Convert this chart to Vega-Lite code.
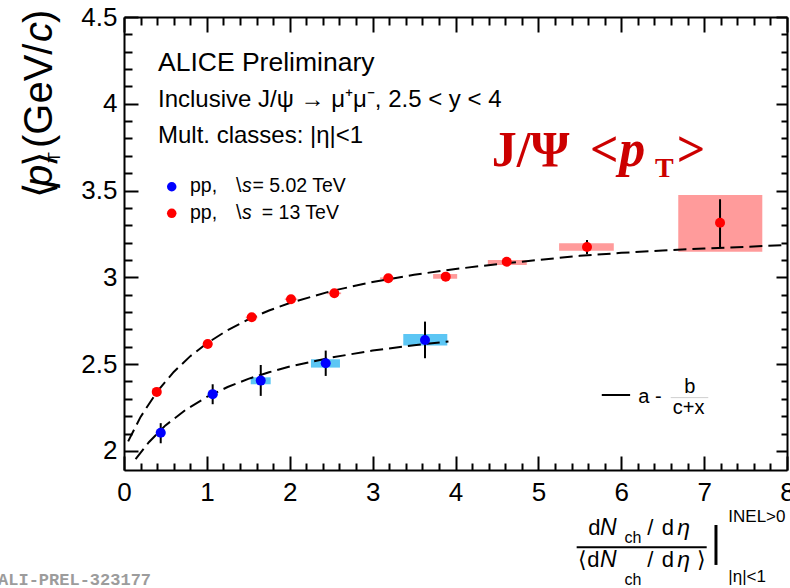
{
  "$schema": "https://vega.github.io/schema/vega-lite/v6.json",
  "width": 663,
  "height": 453,
  "autosize": "none",
  "padding": {"left": 124, "top": 17, "right": 3, "bottom": 118},
  "background": "white",
  "config": {"view": {"stroke": null}, "font": "Liberation Sans", "axis": {"grid": false}},
  "resolve": {"axis": {"x": "independent", "y": "independent"}, "scale": {"color": "independent"}},
  "datasets": {
    "pts": [
      {"energy": "13", "x": 0.395, "y": 2.34, "ylo": 2.335, "yhi": 2.345, "xlo": 0.34, "xhi": 0.45, "slo": 2.336, "shi": 2.344},
      {"energy": "13", "x": 1.01, "y": 2.616, "ylo": 2.61, "yhi": 2.622, "xlo": 0.95, "xhi": 1.07, "slo": 2.611, "shi": 2.621},
      {"energy": "13", "x": 1.541, "y": 2.77, "ylo": 2.764, "yhi": 2.776, "xlo": 1.47, "xhi": 1.61, "slo": 2.765, "shi": 2.775},
      {"energy": "13", "x": 2.015, "y": 2.874, "ylo": 2.868, "yhi": 2.88, "xlo": 1.94, "xhi": 2.09, "slo": 2.869, "shi": 2.879},
      {"energy": "13", "x": 2.538, "y": 2.908, "ylo": 2.902, "yhi": 2.914, "xlo": 2.45, "xhi": 2.62, "slo": 2.903, "shi": 2.913},
      {"energy": "13", "x": 3.189, "y": 2.995, "ylo": 2.989, "yhi": 3.001, "xlo": 3.09, "xhi": 3.29, "slo": 2.99, "shi": 3.0},
      {"energy": "13", "x": 3.882, "y": 3.004, "ylo": 2.998, "yhi": 3.01, "xlo": 3.73, "xhi": 4.02, "slo": 2.992, "shi": 3.019},
      {"energy": "13", "x": 4.618, "y": 3.09, "ylo": 3.084, "yhi": 3.096, "xlo": 4.39, "xhi": 4.86, "slo": 3.071, "shi": 3.1},
      {"energy": "13", "x": 5.587, "y": 3.175, "ylo": 3.134, "yhi": 3.215, "xlo": 5.25, "xhi": 5.91, "slo": 3.153, "shi": 3.196},
      {"energy": "13", "x": 7.192, "y": 3.315, "ylo": 3.173, "yhi": 3.45, "xlo": 6.688, "xhi": 7.702, "slo": 3.148, "shi": 3.474},
      {"energy": "5.02", "x": 0.443, "y": 2.105, "ylo": 2.044, "yhi": 2.16, "xlo": 0.39, "xhi": 0.5, "slo": 2.097, "shi": 2.113},
      {"energy": "5.02", "x": 1.07, "y": 2.327, "ylo": 2.269, "yhi": 2.384, "xlo": 1.01, "xhi": 1.13, "slo": 2.318, "shi": 2.336},
      {"energy": "5.02", "x": 1.65, "y": 2.405, "ylo": 2.317, "yhi": 2.495, "xlo": 1.529, "xhi": 1.77, "slo": 2.384, "shi": 2.424},
      {"energy": "5.02", "x": 2.434, "y": 2.505, "ylo": 2.432, "yhi": 2.578, "xlo": 2.256, "xhi": 2.606, "slo": 2.48, "shi": 2.528},
      {"energy": "5.02", "x": 3.632, "y": 2.639, "ylo": 2.534, "yhi": 2.745, "xlo": 3.37, "xhi": 3.901, "slo": 2.607, "shi": 2.674}
    ],
    "fits": [
      {"series": "13", "x": 0.05, "y": 2.055}, {"series": "13", "x": 0.2, "y": 2.196}, {"series": "13", "x": 0.4, "y": 2.342},
      {"series": "13", "x": 0.6, "y": 2.455}, {"series": "13", "x": 0.8, "y": 2.546}, {"series": "13", "x": 1.0, "y": 2.62},
      {"series": "13", "x": 1.25, "y": 2.696}, {"series": "13", "x": 1.5, "y": 2.758}, {"series": "13", "x": 1.75, "y": 2.809},
      {"series": "13", "x": 2.0, "y": 2.852}, {"series": "13", "x": 2.5, "y": 2.921}, {"series": "13", "x": 3.0, "y": 2.973},
      {"series": "13", "x": 3.5, "y": 3.015}, {"series": "13", "x": 4.0, "y": 3.048}, {"series": "13", "x": 4.5, "y": 3.076},
      {"series": "13", "x": 5.0, "y": 3.1}, {"series": "13", "x": 5.5, "y": 3.124}, {"series": "13", "x": 6.0, "y": 3.141},
      {"series": "13", "x": 6.5, "y": 3.155}, {"series": "13", "x": 7.0, "y": 3.166}, {"series": "13", "x": 7.5, "y": 3.176},
      {"series": "13", "x": 8.0, "y": 3.186},
      {"series": "5.02", "x": 0.14, "y": 1.952}, {"series": "5.02", "x": 0.3, "y": 2.05}, {"series": "5.02", "x": 0.5, "y": 2.147},
      {"series": "5.02", "x": 0.75, "y": 2.239}, {"series": "5.02", "x": 1.0, "y": 2.311}, {"series": "5.02", "x": 1.25, "y": 2.368},
      {"series": "5.02", "x": 1.5, "y": 2.415}, {"series": "5.02", "x": 1.75, "y": 2.453}, {"series": "5.02", "x": 2.0, "y": 2.486},
      {"series": "5.02", "x": 2.5, "y": 2.538}, {"series": "5.02", "x": 3.0, "y": 2.578}, {"series": "5.02", "x": 3.5, "y": 2.609},
      {"series": "5.02", "x": 3.915, "y": 2.63}
    ],
    "legend": [
      {"energy": "5.02", "x": 0.576, "y": 3.522},
      {"energy": "13", "x": 0.576, "y": 3.369}
    ],
    "t_h25": [{"x": 0.41, "y": 4.189, "text": "ALICE Preliminary"}],
    "t_h22": [
      {"x": 0.41, "y": 3.98, "text": "Inclusive J/ψ → μ⁺μ⁻, 2.5 < y < 4"},
      {"x": 0.41, "y": 3.774, "text": "Mult. classes: |η|<1"}
    ],
    "t_leg": [
      {"x": 0.796, "y": 3.4935, "text": "pp,"},
      {"x": 1.35, "y": 3.4935, "text": "\\"},
      {"x": 1.55, "y": 3.4935, "text": "= 5.02 TeV"},
      {"x": 0.796, "y": 3.334, "text": "pp,"},
      {"x": 1.35, "y": 3.334, "text": "\\"},
      {"x": 1.662, "y": 3.334, "text": "= 13 TeV"}
    ],
    "t_legi": [
      {"x": 1.425, "y": 3.4935, "text": "s"},
      {"x": 1.425, "y": 3.334, "text": "s"}
    ],
    "t_big": [
      {"x": 4.437, "y": 3.639, "text": "J/Ψ"},
      {"x": 5.623, "y": 3.639, "text": "<"},
      {"x": 6.669, "y": 3.639, "text": ">"}
    ],
    "t_bigi": [{"x": 5.975, "y": 3.639, "text": "p"}],
    "t_bigs": [{"x": 6.407, "y": 3.58, "text": "T"}],
    "r_fitleg": [{"x": 5.765, "x2": 6.107, "y": 2.322}],
    "r_fitfrac": [{"x": 6.597, "x2": 7.05, "y": 2.307}],
    "t_fit19": [{"x": 6.206, "y": 2.274, "text": "a -"}],
    "t_fit16": [
      {"x": 6.826, "y": 2.332, "text": "b"},
      {"x": 6.814, "y": 2.215, "text": "c+x"}
    ],
    "t_xt": [
      {"x": 5.602, "y": 1.5155, "text": "d"},
      {"x": 6.314, "y": 1.5155, "text": "/"},
      {"x": 6.488, "y": 1.5155, "text": "d"},
      {"x": 5.482, "y": 1.333, "text": "⟨d"},
      {"x": 6.314, "y": 1.333, "text": "/"},
      {"x": 6.488, "y": 1.333, "text": "d"},
      {"x": 6.91, "y": 1.333, "text": "⟩"}
    ],
    "t_xti": [
      {"x": 5.745, "y": 1.5155, "text": "N"},
      {"x": 6.676, "y": 1.5155, "text": "η"},
      {"x": 5.745, "y": 1.333, "text": "N"},
      {"x": 6.676, "y": 1.333, "text": "η"}
    ],
    "t_xts": [
      {"x": 6.04, "y": 1.468, "text": "ch"},
      {"x": 6.04, "y": 1.2274, "text": "ch"}
    ],
    "t_xtl": [
      {"x": 7.292, "y": 1.592, "text": "INEL>0"},
      {"x": 7.292, "y": 1.2464, "text": "|η|<1"}
    ],
    "r_xfrac": [{"x": 5.462, "x2": 7.031, "y": 1.4446}],
    "r_xbar": [{"x": 7.143, "y": 1.573, "y2": 1.343}],
    "t_yt": [
      {"x": -0.869, "y": 3.457, "text": "⟨"},
      {"x": -0.869, "y": 3.636, "text": "⟩"},
      {"x": -0.869, "y": 3.745, "text": "(GeV/"},
      {"x": -0.869, "y": 4.465, "text": ")"}
    ],
    "t_yti": [
      {"x": -0.869, "y": 3.521, "text": "p"},
      {"x": -0.869, "y": 4.356, "text": "c"}
    ],
    "t_yts": [{"x": -0.772, "y": 3.662, "text": "T"}],
    "t_wm": [{"x": -1.52, "y": 1.2274, "text": "ALI-PREL-323177"}]
  },
  "layer": [
    {
      "data": {"name": "pts"},
      "mark": {"type": "rect"},
      "encoding": {
        "x": {"field": "xlo", "type": "quantitative", "scale": {"domain": [0, 8], "nice": false, "zero": false},
          "axis": {"orient": "bottom", "values": [0, 1, 2, 3, 4, 5, 6, 7, 8], "format": "~g", "ticks": false, "domain": true, "domainColor": "black", "domainWidth": 2, "labelFont": "Liberation Sans", "labelFontSize": 26, "labelColor": "black", "labelPadding": 9, "labelFlush": false, "labelOverlap": false, "title": null}},
        "x2": {"field": "xhi"},
        "y": {"field": "slo", "type": "quantitative", "scale": {"domain": [1.89, 4.5], "nice": false, "zero": false},
          "axis": {"orient": "left", "values": [2, 2.5, 3, 3.5, 4, 4.5], "format": "~g", "ticks": false, "domain": true, "domainColor": "black", "domainWidth": 2, "labelFont": "Liberation Sans", "labelFontSize": 26, "labelColor": "black", "labelPadding": 7, "labelFlush": false, "labelOverlap": false, "title": null}},
        "y2": {"field": "shi"},
        "color": {"field": "energy", "type": "nominal", "scale": {"domain": ["5.02", "13"], "range": ["#5cc6f4", "#ff9b9b"]}, "legend": null}
      }
    },
    {
      "data": {"name": "fits"},
      "mark": {"type": "line", "color": "black", "strokeWidth": 2, "strokeDash": [13, 6]},
      "encoding": {
        "x": {"field": "x", "type": "quantitative", "scale": {"domain": [0, 8], "nice": false, "zero": false},
          "axis": {"orient": "bottom", "values": [0, 1, 2, 3, 4, 5, 6, 7, 8], "labels": false, "domain": false, "ticks": true, "tickSize": -14, "tickWidth": 2, "tickColor": "black", "title": null}},
        "y": {"field": "y", "type": "quantitative", "scale": {"domain": [1.89, 4.5], "nice": false, "zero": false},
          "axis": {"orient": "left", "values": [2, 2.5, 3, 3.5, 4, 4.5], "labels": false, "domain": false, "ticks": true, "tickSize": -14, "tickWidth": 2, "tickColor": "black", "title": null}},
        "detail": {"field": "series", "type": "nominal"}
      }
    },
    {
      "data": {"name": "pts"},
      "mark": {"type": "rule", "color": "black", "strokeWidth": 2},
      "encoding": {
        "x": {"field": "x", "type": "quantitative", "scale": {"domain": [0, 8], "nice": false, "zero": false},
          "axis": {"orient": "bottom", "values": [0.2, 0.4, 0.6, 0.8, 1.2, 1.4, 1.6, 1.8, 2.2, 2.4, 2.6, 2.8, 3.2, 3.4, 3.6, 3.8, 4.2, 4.4, 4.6, 4.8, 5.2, 5.4, 5.6, 5.8, 6.2, 6.4, 6.6, 6.8, 7.2, 7.4, 7.6, 7.8], "labels": false, "domain": false, "ticks": true, "tickSize": -7, "tickWidth": 2, "tickColor": "black", "title": null}},
        "y": {"field": "ylo", "type": "quantitative", "scale": {"domain": [1.89, 4.5], "nice": false, "zero": false},
          "axis": {"orient": "left", "values": [2.1, 2.2, 2.3, 2.4, 2.6, 2.7, 2.8, 2.9, 3.1, 3.2, 3.3, 3.4, 3.6, 3.7, 3.8, 3.9, 4.1, 4.2, 4.3, 4.4], "labels": false, "domain": false, "ticks": true, "tickSize": -8, "tickWidth": 2, "tickColor": "black", "title": null}},
        "y2": {"field": "yhi"}
      }
    },
    {
      "data": {"name": "pts"},
      "mark": {"type": "circle", "size": 100, "opacity": 1},
      "encoding": {
        "x": {"field": "x", "type": "quantitative", "scale": {"domain": [0, 8], "nice": false, "zero": false},
          "axis": {"orient": "top", "values": [0, 1, 2, 3, 4, 5, 6, 7, 8], "labels": false, "domain": true, "domainColor": "black", "domainWidth": 2, "ticks": true, "tickSize": -15, "tickWidth": 2, "tickColor": "black", "title": null}},
        "y": {"field": "y", "type": "quantitative", "scale": {"domain": [1.89, 4.5], "nice": false, "zero": false},
          "axis": {"orient": "right", "values": [2, 2.5, 3, 3.5, 4, 4.5], "labels": false, "domain": true, "domainColor": "black", "domainWidth": 2, "ticks": true, "tickSize": -11, "tickWidth": 2, "tickColor": "black", "title": null}},
        "color": {"field": "energy", "type": "nominal", "scale": {"domain": ["5.02", "13"], "range": ["#0000ff", "#ff0000"]}, "legend": null}
      }
    },
    {
      "data": {"name": "legend"},
      "mark": {"type": "circle", "size": 90, "opacity": 1},
      "encoding": {
        "x": {"field": "x", "type": "quantitative", "scale": {"domain": [0, 8], "nice": false, "zero": false},
          "axis": {"orient": "top", "values": [0.2, 0.4, 0.6, 0.8, 1.2, 1.4, 1.6, 1.8, 2.2, 2.4, 2.6, 2.8, 3.2, 3.4, 3.6, 3.8, 4.2, 4.4, 4.6, 4.8, 5.2, 5.4, 5.6, 5.8, 6.2, 6.4, 6.6, 6.8, 7.2, 7.4, 7.6, 7.8], "labels": false, "domain": false, "ticks": true, "tickSize": -8, "tickWidth": 2, "tickColor": "black", "title": null}},
        "y": {"field": "y", "type": "quantitative", "scale": {"domain": [1.89, 4.5], "nice": false, "zero": false},
          "axis": {"orient": "right", "values": [2.1, 2.2, 2.3, 2.4, 2.6, 2.7, 2.8, 2.9, 3.1, 3.2, 3.3, 3.4, 3.6, 3.7, 3.8, 3.9, 4.1, 4.2, 4.3, 4.4], "labels": false, "domain": false, "ticks": true, "tickSize": -6, "tickWidth": 2, "tickColor": "black", "title": null}},
        "color": {"field": "energy", "type": "nominal", "scale": {"domain": ["5.02", "13"], "range": ["#0000ff", "#ff0000"]}, "legend": null}
      }
    },
    {
      "data": {"name": "t_h25"},
      "mark": {"type": "text", "font": "Liberation Sans", "fontSize": 26.5, "align": "left", "baseline": "alphabetic", "color": "black"},
      "encoding": {
        "x": {"field": "x", "type": "quantitative", "scale": {"domain": [0, 8], "nice": false, "zero": false}, "axis": null},
        "y": {"field": "y", "type": "quantitative", "scale": {"domain": [1.89, 4.5], "nice": false, "zero": false}, "axis": null},
        "text": {"field": "text"}
      }
    },
    {
      "data": {"name": "t_h22"},
      "mark": {"type": "text", "font": "Liberation Sans", "fontSize": 24, "align": "left", "baseline": "alphabetic", "color": "black"},
      "encoding": {
        "x": {"field": "x", "type": "quantitative", "scale": {"domain": [0, 8], "nice": false, "zero": false}, "axis": null},
        "y": {"field": "y", "type": "quantitative", "scale": {"domain": [1.89, 4.5], "nice": false, "zero": false}, "axis": null},
        "text": {"field": "text"}
      }
    },
    {
      "data": {"name": "t_leg"},
      "mark": {"type": "text", "font": "Liberation Sans", "fontSize": 19.5, "align": "left", "baseline": "alphabetic", "color": "black"},
      "encoding": {
        "x": {"field": "x", "type": "quantitative", "scale": {"domain": [0, 8], "nice": false, "zero": false}, "axis": null},
        "y": {"field": "y", "type": "quantitative", "scale": {"domain": [1.89, 4.5], "nice": false, "zero": false}, "axis": null},
        "text": {"field": "text"}
      }
    },
    {
      "data": {"name": "t_legi"},
      "mark": {"type": "text", "font": "Liberation Sans", "fontSize": 19.5, "fontStyle": "italic", "align": "left", "baseline": "alphabetic", "color": "black"},
      "encoding": {
        "x": {"field": "x", "type": "quantitative", "scale": {"domain": [0, 8], "nice": false, "zero": false}, "axis": null},
        "y": {"field": "y", "type": "quantitative", "scale": {"domain": [1.89, 4.5], "nice": false, "zero": false}, "axis": null},
        "text": {"field": "text"}
      }
    },
    {
      "data": {"name": "t_big"},
      "mark": {"type": "text", "font": "Liberation Serif", "fontSize": 50, "fontWeight": "bold", "align": "left", "baseline": "alphabetic", "color": "#cc0000"},
      "encoding": {
        "x": {"field": "x", "type": "quantitative", "scale": {"domain": [0, 8], "nice": false, "zero": false}, "axis": null},
        "y": {"field": "y", "type": "quantitative", "scale": {"domain": [1.89, 4.5], "nice": false, "zero": false}, "axis": null},
        "text": {"field": "text"}
      }
    },
    {
      "data": {"name": "t_bigi"},
      "mark": {"type": "text", "font": "Liberation Serif", "fontSize": 52, "fontWeight": "bold", "fontStyle": "italic", "align": "left", "baseline": "alphabetic", "color": "#cc0000"},
      "encoding": {
        "x": {"field": "x", "type": "quantitative", "scale": {"domain": [0, 8], "nice": false, "zero": false}, "axis": null},
        "y": {"field": "y", "type": "quantitative", "scale": {"domain": [1.89, 4.5], "nice": false, "zero": false}, "axis": null},
        "text": {"field": "text"}
      }
    },
    {
      "data": {"name": "t_bigs"},
      "mark": {"type": "text", "font": "Liberation Serif", "fontSize": 28, "fontWeight": "bold", "align": "left", "baseline": "alphabetic", "color": "#cc0000"},
      "encoding": {
        "x": {"field": "x", "type": "quantitative", "scale": {"domain": [0, 8], "nice": false, "zero": false}, "axis": null},
        "y": {"field": "y", "type": "quantitative", "scale": {"domain": [1.89, 4.5], "nice": false, "zero": false}, "axis": null},
        "text": {"field": "text"}
      }
    },
    {
      "data": {"name": "r_fitleg"},
      "mark": {"type": "rule", "color": "black", "strokeWidth": 2},
      "encoding": {
        "x": {"field": "x", "type": "quantitative", "scale": {"domain": [0, 8], "nice": false, "zero": false}, "axis": null},
        "x2": {"field": "x2"},
        "y": {"field": "y", "type": "quantitative", "scale": {"domain": [1.89, 4.5], "nice": false, "zero": false}, "axis": null}
      }
    },
    {
      "data": {"name": "r_fitfrac"},
      "mark": {"type": "rule", "color": "#cfcfcf", "strokeWidth": 1},
      "encoding": {
        "x": {"field": "x", "type": "quantitative", "scale": {"domain": [0, 8], "nice": false, "zero": false}, "axis": null},
        "x2": {"field": "x2"},
        "y": {"field": "y", "type": "quantitative", "scale": {"domain": [1.89, 4.5], "nice": false, "zero": false}, "axis": null}
      }
    },
    {
      "data": {"name": "t_fit19"},
      "mark": {"type": "text", "font": "Liberation Sans", "fontSize": 20, "align": "left", "baseline": "alphabetic", "color": "black"},
      "encoding": {
        "x": {"field": "x", "type": "quantitative", "scale": {"domain": [0, 8], "nice": false, "zero": false}, "axis": null},
        "y": {"field": "y", "type": "quantitative", "scale": {"domain": [1.89, 4.5], "nice": false, "zero": false}, "axis": null},
        "text": {"field": "text"}
      }
    },
    {
      "data": {"name": "t_fit16"},
      "mark": {"type": "text", "font": "Liberation Sans", "fontSize": 20, "align": "center", "baseline": "alphabetic", "color": "black"},
      "encoding": {
        "x": {"field": "x", "type": "quantitative", "scale": {"domain": [0, 8], "nice": false, "zero": false}, "axis": null},
        "y": {"field": "y", "type": "quantitative", "scale": {"domain": [1.89, 4.5], "nice": false, "zero": false}, "axis": null},
        "text": {"field": "text"}
      }
    },
    {
      "data": {"name": "t_xt"},
      "mark": {"type": "text", "font": "Liberation Sans", "fontSize": 22, "align": "left", "baseline": "alphabetic", "color": "black"},
      "encoding": {
        "x": {"field": "x", "type": "quantitative", "scale": {"domain": [0, 8], "nice": false, "zero": false}, "axis": null},
        "y": {"field": "y", "type": "quantitative", "scale": {"domain": [1.89, 4.5], "nice": false, "zero": false}, "axis": null},
        "text": {"field": "text"}
      }
    },
    {
      "data": {"name": "t_xti"},
      "mark": {"type": "text", "font": "Liberation Sans", "fontSize": 23, "fontStyle": "italic", "align": "left", "baseline": "alphabetic", "color": "black"},
      "encoding": {
        "x": {"field": "x", "type": "quantitative", "scale": {"domain": [0, 8], "nice": false, "zero": false}, "axis": null},
        "y": {"field": "y", "type": "quantitative", "scale": {"domain": [1.89, 4.5], "nice": false, "zero": false}, "axis": null},
        "text": {"field": "text"}
      }
    },
    {
      "data": {"name": "t_xts"},
      "mark": {"type": "text", "font": "Liberation Sans", "fontSize": 16, "align": "left", "baseline": "alphabetic", "color": "black"},
      "encoding": {
        "x": {"field": "x", "type": "quantitative", "scale": {"domain": [0, 8], "nice": false, "zero": false}, "axis": null},
        "y": {"field": "y", "type": "quantitative", "scale": {"domain": [1.89, 4.5], "nice": false, "zero": false}, "axis": null},
        "text": {"field": "text"}
      }
    },
    {
      "data": {"name": "t_xtl"},
      "mark": {"type": "text", "font": "Liberation Sans", "fontSize": 17, "align": "left", "baseline": "alphabetic", "color": "black"},
      "encoding": {
        "x": {"field": "x", "type": "quantitative", "scale": {"domain": [0, 8], "nice": false, "zero": false}, "axis": null},
        "y": {"field": "y", "type": "quantitative", "scale": {"domain": [1.89, 4.5], "nice": false, "zero": false}, "axis": null},
        "text": {"field": "text"}
      }
    },
    {
      "data": {"name": "r_xfrac"},
      "mark": {"type": "rule", "color": "black", "strokeWidth": 2},
      "encoding": {
        "x": {"field": "x", "type": "quantitative", "scale": {"domain": [0, 8], "nice": false, "zero": false}, "axis": null},
        "x2": {"field": "x2"},
        "y": {"field": "y", "type": "quantitative", "scale": {"domain": [1.89, 4.5], "nice": false, "zero": false}, "axis": null}
      }
    },
    {
      "data": {"name": "r_xbar"},
      "mark": {"type": "rule", "color": "black", "strokeWidth": 3},
      "encoding": {
        "x": {"field": "x", "type": "quantitative", "scale": {"domain": [0, 8], "nice": false, "zero": false}, "axis": null},
        "y": {"field": "y", "type": "quantitative", "scale": {"domain": [1.89, 4.5], "nice": false, "zero": false}, "axis": null},
        "y2": {"field": "y2"}
      }
    },
    {
      "data": {"name": "t_yt"},
      "mark": {"type": "text", "font": "Liberation Sans", "fontSize": 40, "angle": -90, "align": "left", "baseline": "alphabetic", "color": "black"},
      "encoding": {
        "x": {"field": "x", "type": "quantitative", "scale": {"domain": [0, 8], "nice": false, "zero": false}, "axis": null},
        "y": {"field": "y", "type": "quantitative", "scale": {"domain": [1.89, 4.5], "nice": false, "zero": false}, "axis": null},
        "text": {"field": "text"}
      }
    },
    {
      "data": {"name": "t_yti"},
      "mark": {"type": "text", "font": "Liberation Sans", "fontSize": 40, "fontStyle": "italic", "angle": -90, "align": "left", "baseline": "alphabetic", "color": "black"},
      "encoding": {
        "x": {"field": "x", "type": "quantitative", "scale": {"domain": [0, 8], "nice": false, "zero": false}, "axis": null},
        "y": {"field": "y", "type": "quantitative", "scale": {"domain": [1.89, 4.5], "nice": false, "zero": false}, "axis": null},
        "text": {"field": "text"}
      }
    },
    {
      "data": {"name": "t_yts"},
      "mark": {"type": "text", "font": "Liberation Sans", "fontSize": 17, "angle": -90, "align": "left", "baseline": "alphabetic", "color": "black"},
      "encoding": {
        "x": {"field": "x", "type": "quantitative", "scale": {"domain": [0, 8], "nice": false, "zero": false}, "axis": null},
        "y": {"field": "y", "type": "quantitative", "scale": {"domain": [1.89, 4.5], "nice": false, "zero": false}, "axis": null},
        "text": {"field": "text"}
      }
    },
    {
      "data": {"name": "t_wm"},
      "mark": {"type": "text", "font": "Liberation Mono", "fontSize": 17, "fontWeight": "bold", "align": "left", "baseline": "alphabetic", "color": "#9c9c9c"},
      "encoding": {
        "x": {"field": "x", "type": "quantitative", "scale": {"domain": [0, 8], "nice": false, "zero": false}, "axis": null},
        "y": {"field": "y", "type": "quantitative", "scale": {"domain": [1.89, 4.5], "nice": false, "zero": false}, "axis": null},
        "text": {"field": "text"}
      }
    }
  ]
}
